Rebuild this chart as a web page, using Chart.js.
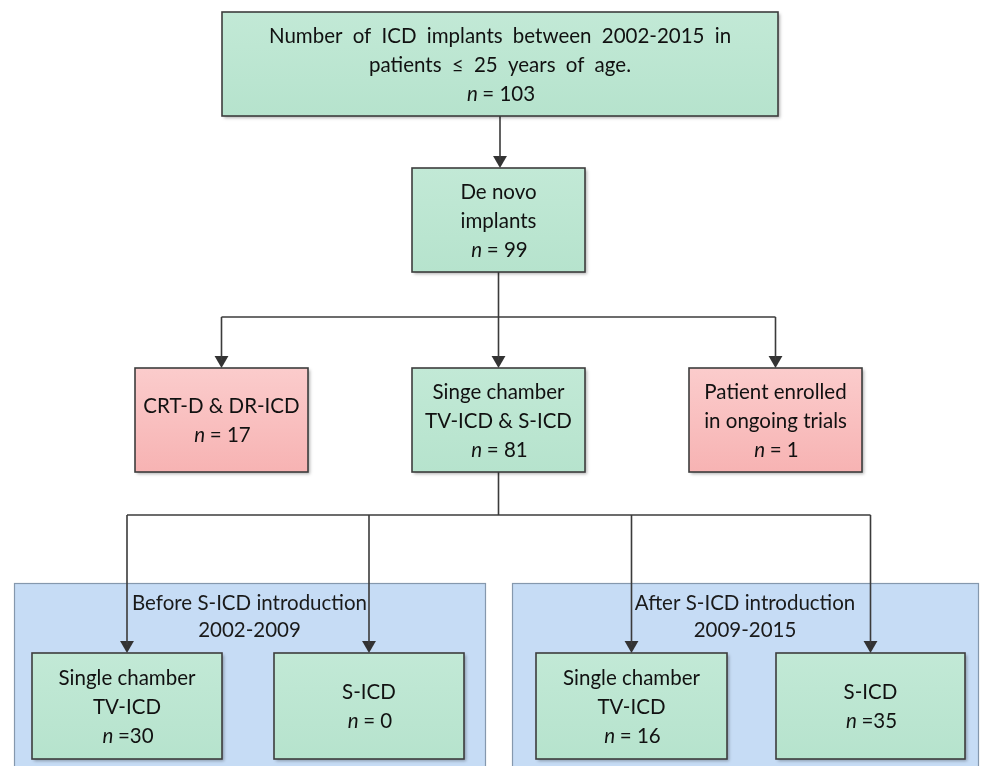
<!DOCTYPE html>
<html>
<head>
<meta charset="utf-8">
<script src="https://cdn.jsdelivr.net/npm/chart.js@4/dist/chart.umd.min.js"></script>
<style>
  html,body{margin:0;padding:0;background:#fff;}
  canvas{display:block;}
</style>
</head>
<body>
<canvas id="c" width="982" height="766"></canvas>
<script>
// ---- content ----
const nodeLabels = [
  ["Number of ICD implants between 2002-2015 in", "patients \u2264 25 years of age."],
  ["De novo", "implants"],
  ["CRT-D & DR-ICD"],
  ["Singe chamber", "TV-ICD & S-ICD"],
  ["Patient enrolled", "in ongoing trials"],
  ["Single chamber", "TV-ICD"],
  ["S-ICD"],
  ["Single chamber", "TV-ICD"],
  ["S-ICD"]
];
const nodeCounts = [103, 99, 17, 81, 1, 30, 0, 16, 35];
const countSeparators = [" = ", " = ", " = ", " = ", " = ", " =", " = ", " = ", " ="];
const groupLabels = [
  ["Before S-ICD introduction", "2002-2009"],
  ["After S-ICD introduction", "2009-2015"]
];
const nodeKinds = ["include", "include", "exclude", "include", "exclude", "include", "include", "include", "include"];

// ---- layout (diagram units = page pixels) ----
const nodeBoxes = [
  [222, 12, 778, 116],
  [412, 168, 585, 272],
  [135, 368, 308, 472],
  [412, 368, 585, 472],
  [689, 368, 862, 472],
  [32, 653, 222, 759],
  [274, 653, 464, 759],
  [536, 653, 727, 759],
  [776, 653, 965, 759]
];
const nodeWordSpacing = [5, 0, 0, 0, 0, 0, 0, 0, 0];
const groupBoxes = [
  [14, 583, 485, 800],
  [512, 583, 978, 800]
];
const groupTitleY = [603, 630];
const edges = [
  {from: 0, to: [1]},
  {from: 1, to: [2, 3, 4], bus: 317},
  {from: 3, to: [5, 6, 7, 8], bus: 515}
];
const ARROW_R = 8;
const LINE_H = 29;

// ---- build connector datasets ----
const cx = b => (b[0] + b[2]) / 2;
const lineColor = '#3b3b3b';
const datasets = [];
const arrowPts = [];
edges.forEach(e => {
  const p = nodeBoxes[e.from];
  const px = cx(p), py = p[3];
  if (e.bus === undefined) {
    const c = nodeBoxes[e.to[0]];
    datasets.push({data: [{x: px, y: py}, {x: px, y: c[1] - ARROW_R}]});
    arrowPts.push({x: px, y: c[1] - ARROW_R});
  } else {
    datasets.push({data: [{x: px, y: py}, {x: px, y: e.bus}]});
    const xs = e.to.map(i => cx(nodeBoxes[i]));
    datasets.push({data: [{x: Math.min(...xs), y: e.bus}, {x: Math.max(...xs), y: e.bus}]});
    e.to.forEach(i => {
      const c = nodeBoxes[i];
      datasets.push({data: [{x: cx(c), y: e.bus}, {x: cx(c), y: c[1] - ARROW_R}]});
      arrowPts.push({x: cx(c), y: c[1] - ARROW_R});
    });
  }
});
datasets.forEach(d => Object.assign(d, {
  showLine: true, borderColor: lineColor, borderWidth: 1.6, pointRadius: 0, fill: false, tension: 0
}));
datasets.push({
  data: arrowPts, showLine: false, pointStyle: 'triangle', rotation: 180,
  pointRadius: ARROW_R, backgroundColor: '#333', borderColor: '#333', borderWidth: 0
});

const FONT = 'Lato, "Open Sans", sans-serif';
const FS = 20.5;

function drawCentered(ctx, text, x, y, ws) {
  ctx.font = `${FS}px ${FONT}`;
  ctx.textAlign = 'center';
  if ('wordSpacing' in ctx) ctx.wordSpacing = (ws || 0) + 'px';
  ctx.fillText(text, x, y);
  if ('wordSpacing' in ctx) ctx.wordSpacing = '0px';
}
function drawCount(ctx, sep, val, x, y) {
  const it = `italic ${FS}px ${FONT}`, rg = `${FS}px ${FONT}`;
  ctx.font = it; const w1 = ctx.measureText('n').width;
  const rest = sep.replace(/^ /, '\u2009') + val;
  ctx.font = rg; const w2 = ctx.measureText(rest).width;
  const start = x - (w1 + w2) / 2;
  ctx.textAlign = 'left';
  ctx.font = it; ctx.fillText('n', start, y);
  ctx.font = rg; ctx.fillText(rest, start + w1 + 2, y);
}

const diagramPlugin = {
  id: 'diagram',
  beforeDatasetsDraw(chart) {
    const {ctx, scales: {x, y}} = chart;
    ctx.save();
    groupBoxes.forEach((g, i) => {
      const x0 = x.getPixelForValue(g[0]), y0 = y.getPixelForValue(g[1]);
      const x1 = x.getPixelForValue(g[2]), y1 = y.getPixelForValue(g[3]);
      ctx.fillStyle = '#c6dcf5';
      ctx.fillRect(x0, y0, x1 - x0, y1 - y0);
      ctx.strokeStyle = '#8598ad';
      ctx.lineWidth = 1.2;
      ctx.strokeRect(x0 + 0.5, y0 + 0.5, x1 - x0, y1 - y0);
      ctx.fillStyle = '#1a1a1a';
      ctx.textBaseline = 'middle';
      groupLabels[i].forEach((t, k) => {
        drawCentered(ctx, t, (x0 + x1) / 2, y.getPixelForValue(groupTitleY[k]), 0);
      });
    });
    ctx.restore();
  },
  afterDatasetsDraw(chart) {
    const {ctx, scales: {x, y}} = chart;
    ctx.save();
    nodeBoxes.forEach((b, i) => {
      const x0 = x.getPixelForValue(b[0]), y0 = y.getPixelForValue(b[1]);
      const x1 = x.getPixelForValue(b[2]), y1 = y.getPixelForValue(b[3]);
      const grad = ctx.createLinearGradient(0, y0, 0, y1);
      if (nodeKinds[i] === 'include') {
        grad.addColorStop(0, '#c2e9d6'); grad.addColorStop(1, '#b6e3cd');
      } else {
        grad.addColorStop(0, '#fbcccc'); grad.addColorStop(1, '#f7b3b3');
      }
      ctx.save();
      ctx.shadowColor = 'rgba(0,0,0,0.3)';
      ctx.shadowBlur = 3; ctx.shadowOffsetX = 2; ctx.shadowOffsetY = 2;
      ctx.fillStyle = grad;
      ctx.fillRect(x0, y0, x1 - x0, y1 - y0);
      ctx.restore();
      ctx.strokeStyle = '#3d3d3d';
      ctx.lineWidth = 1.6;
      ctx.strokeRect(x0, y0, x1 - x0, y1 - y0);
      const lines = nodeLabels[i].length + 1;
      const mid = (y0 + y1) / 2 + 1;
      const top = mid - (lines - 1) * LINE_H / 2;
      ctx.fillStyle = '#111';
      ctx.textBaseline = 'middle';
      nodeLabels[i].forEach((t, k) => drawCentered(ctx, t, (x0 + x1) / 2, top + k * LINE_H, nodeWordSpacing[i]));
      drawCount(ctx, countSeparators[i], nodeCounts[i], (x0 + x1) / 2, top + (lines - 1) * LINE_H);
    });
    ctx.restore();
  }
};

new Chart(document.getElementById('c'), {
  type: 'scatter',
  data: {datasets},
  options: {
    responsive: false,
    animation: false,
    devicePixelRatio: 1,
    layout: {padding: 0, autoPadding: false},
    scales: {
      x: {type: 'linear', min: 0, max: 982, display: false},
      y: {type: 'linear', min: 0, max: 766, reverse: true, display: false}
    },
    plugins: {legend: {display: false}, tooltip: {enabled: false}}
  },
  plugins: [diagramPlugin]
});
</script>
</body>
</html>
